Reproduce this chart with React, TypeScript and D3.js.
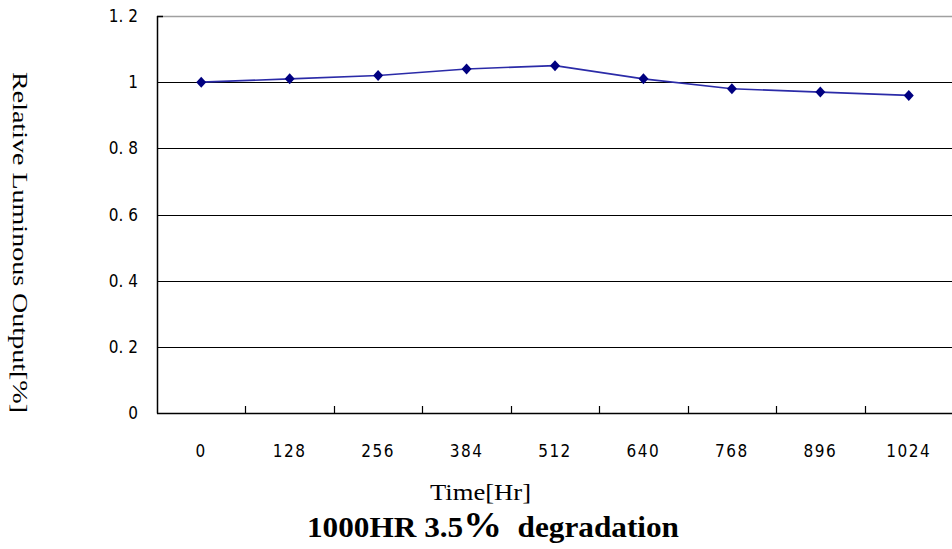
import React, { useEffect, useRef } from 'react';
import * as d3 from 'd3';

// hours on the x axis (categories)
const hours = ['0', '128', '256', '384', '512', '640', '768', '896', '1024'];
// relative luminous output
const output = [1.0, 1.01, 1.02, 1.04, 1.05, 1.01, 0.98, 0.97, 0.96];
const yTicks = [0, 0.2, 0.4, 0.6, 0.8, 1, 1.2];
const yTickLabels = ['0', '0. 2', '0. 4', '0. 6', '0. 8', '1', '1. 2'];

const W = 952;
const H = 549;
const left = 157;
const right = 953;
const top = 16;
const bottom = 413;

const tickFont = '"DejaVu Sans Condensed", "Liberation Sans Narrow", "DejaVu Sans", sans-serif';
const serif = '"Liberation Serif", "DejaVu Serif", serif';

const App: React.FC = () => {
  const svgRef = useRef<SVGSVGElement>(null);

  useEffect(() => {
    document.body.style.margin = '0';
    if (!svgRef.current) return;
    const svg = d3.select(svgRef.current);
    svg.selectAll('*').remove();

    const x = d3.scaleBand().domain(hours).range([left, right]).padding(0);
    const y = d3.scaleLinear().domain([0, 1.2]).range([bottom, top]);
    const cx = (h: string) => (x(h) || 0) + x.bandwidth() / 2;

    // gridlines
    svg.append('g')
      .selectAll('line')
      .data(yTicks.filter(t => t > 0 && t < 1.2))
      .enter()
      .append('line')
      .attr('x1', left)
      .attr('x2', W)
      .attr('y1', d => Math.round(y(d)) + 0.5)
      .attr('y2', d => Math.round(y(d)) + 0.5)
      .attr('stroke', '#000')
      .attr('stroke-width', 1.2);

    // top border
    svg.append('line')
      .attr('x1', left).attr('x2', W)
      .attr('y1', Math.round(y(1.2)) + 0.5).attr('y2', Math.round(y(1.2)) + 0.5)
      .attr('stroke', '#a0a0a0').attr('stroke-width', 1.5);

    // y axis
    svg.append('line')
      .attr('x1', left + 0.5).attr('x2', left + 0.5)
      .attr('y1', top).attr('y2', bottom + 0.5)
      .attr('stroke', '#000').attr('stroke-width', 1.5);
    svg.append('line')
      .attr('x1', left).attr('x2', left + 6)
      .attr('y1', top + 0.5).attr('y2', top + 0.5)
      .attr('stroke', '#000').attr('stroke-width', 1.5);

    // x axis
    svg.append('line')
      .attr('x1', left).attr('x2', W)
      .attr('y1', bottom + 0.5).attr('y2', bottom + 0.5)
      .attr('stroke', '#000').attr('stroke-width', 1.5);

    // x ticks at category boundaries, pointing up
    svg.append('g')
      .selectAll('line')
      .data(hours.slice(1))
      .enter()
      .append('line')
      .attr('x1', d => Math.round(x(d) || 0) + 0.5)
      .attr('x2', d => Math.round(x(d) || 0) + 0.5)
      .attr('y1', bottom - 7)
      .attr('y2', bottom)
      .attr('stroke', '#000')
      .attr('stroke-width', 1.2);

    // y tick labels
    svg.append('g')
      .selectAll('text')
      .data(yTicks)
      .enter()
      .append('text')
      .attr('x', left - 19)
      .attr('y', d => y(d))
      .attr('dy', '0.36em')
      .attr('text-anchor', 'end')
      .attr('font-family', tickFont)
      .attr('font-size', 17)
      .attr('fill', '#000')
      .text((_, i) => yTickLabels[i]);

    // x tick labels
    svg.append('g')
      .selectAll('text')
      .data(hours)
      .enter()
      .append('text')
      .attr('x', d => cx(d))
      .attr('y', 457)
      .attr('text-anchor', 'middle')
      .attr('font-family', tickFont)
      .attr('font-size', 17)
      .attr('letter-spacing', 1.5)
      .attr('fill', '#000')
      .text(d => d);

    // series line
    const line = d3.line<number>()
      .x((_, i) => cx(hours[i]))
      .y(d => y(d));
    svg.append('path')
      .datum(output)
      .attr('d', line)
      .attr('fill', 'none')
      .attr('stroke', '#2b2ba8')
      .attr('stroke-width', 1.6);

    // diamond markers
    svg.append('g')
      .selectAll('path')
      .data(output)
      .enter()
      .append('path')
      .attr('transform', (d, i) => `translate(${cx(hours[i])},${y(d)})`)
      .attr('d', 'M0,-5.5L5,0L0,5.5L-5,0Z')
      .attr('fill', '#000080');

    // axis titles
    svg.append('text')
      .attr('x', 430)
      .attr('y', 500)
      .attr('font-family', serif)
      .attr('font-size', 24)
      .attr('textLength', 101)
      .attr('lengthAdjust', 'spacingAndGlyphs')
      .text('Time[Hr]');

    svg.append('text')
      .attr('transform', `translate(13,72) rotate(90)`)
      .attr('font-family', serif)
      .attr('font-size', 22)
      .attr('textLength', 341)
      .attr('lengthAdjust', 'spacingAndGlyphs')
      .text('Relative Luminous Output[%]');

    const cap = svg.append('text')
      .attr('x', 307)
      .attr('y', 537)
      .attr('font-family', serif)
      .attr('font-weight', 'bold')
      .attr('font-size', 29)
      .attr('textLength', 372)
      .attr('lengthAdjust', 'spacingAndGlyphs');
    cap.append('tspan').text('1000HR 3.5');
    cap.append('tspan').attr('font-size', 36).text('%');
    cap.append('tspan').text('\u00a0\u00a0degradation');
  }, []);

  return <svg ref={svgRef} width={W} height={H} style={{ display: 'block', background: '#fff' }} />;
};

export default App;
